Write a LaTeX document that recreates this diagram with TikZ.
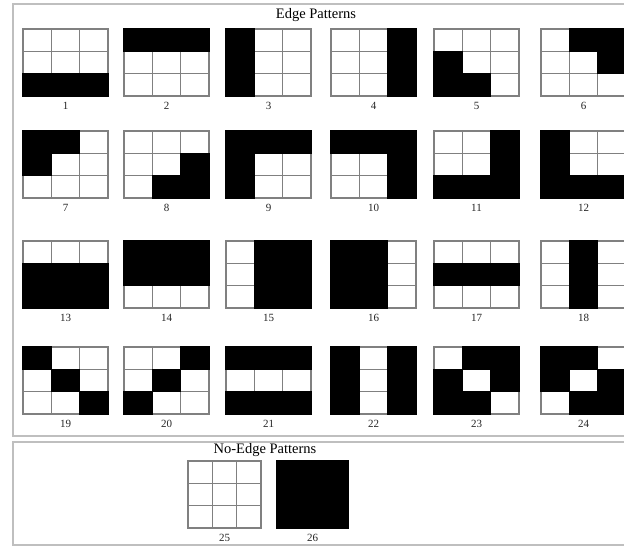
\documentclass[tikz,border=0pt]{standalone}
\usepackage{fontspec}
\setmainfont{Liberation Serif}
\tikzset{
  gridline/.style={draw=black!50, line width=1.1pt},
  frameline/.style={draw=black!25, line width=2pt},
  numlabel/.style={font=\fontsize{11}{12}\selectfont, inner sep=0pt, text=black!85},
  titlelabel/.style={font=\fontsize{14.5}{16}\selectfont, inner sep=0pt, text=black},
  cellfill/.style={fill=black},
}
\newcommand\mypat[7]{% #1 name, #2 x, #3 y, #4 w, #5 h, #6 bits, #7 label
  \pgfmathsetmacro\mycw{#4/3}\pgfmathsetmacro\mych{#5/3}
  \foreach \k in {1,2} {
    \draw[gridline] (#2+\k*\mycw, #3) -- (#2+\k*\mycw, #3+#5);
    \draw[gridline] (#2, #3+\k*\mych) -- (#2+#4, #3+\k*\mych);
  }
  \draw[gridline] (#2,#3) rectangle (#2+#4,#3+#5);
  \foreach \b [count=\i from 0] in {#6} {
    \pgfmathtruncatemacro\mycc{mod(\i,3)}
    \pgfmathtruncatemacro\myrr{int(\i/3)}
    \ifnum\b=1 \fill[cellfill] (#2+\mycc*\mycw-0.6, #3+\myrr*\mych-0.6) rectangle ++(\mycw+1.2,\mych+1.2); \fi
  }
  \node[numlabel] (#1) at (#2+#4/2, #3+#5+9.5) {#7};
}
\begin{document}
\begin{tikzpicture}[x=1pt,y=-1pt]
\useasboundingbox (0,0) rectangle (624,546);
\clip (0,0) rectangle (624,546);
\fill[white] (0,0) rectangle (624,546);
% frames
\draw[frameline] (13,4) rectangle (660,436);
\draw[frameline] (13,442) rectangle (660,545);
\node[titlelabel] (t1) at (316,15.5) {Edge Patterns};
\node[titlelabel] (t2) at (265,450.5) {No-Edge Patterns};
% row 1
\mypat{p1}{23}{29}{85}{67}{0,0,0,0,0,0,1,1,1}{1}
\mypat{p2}{124}{29}{85}{67}{1,1,1,0,0,0,0,0,0}{2}
\mypat{p3}{226}{29}{85}{67}{1,0,0,1,0,0,1,0,0}{3}
\mypat{p4}{331}{29}{85}{67}{0,0,1,0,0,1,0,0,1}{4}
\mypat{p5}{434}{29}{85}{67}{0,0,0,1,0,0,1,1,0}{5}
\mypat{p6}{541}{29}{85}{67}{0,1,1,0,0,1,0,0,0}{6}
% row 2
\mypat{p7}{23}{131}{85}{67}{1,1,0,1,0,0,0,0,0}{7}
\mypat{p8}{124}{131}{85}{67}{0,0,0,0,0,1,0,1,1}{8}
\mypat{p9}{226}{131}{85}{67}{1,1,1,1,0,0,1,0,0}{9}
\mypat{p10}{331}{131}{85}{67}{1,1,1,0,0,1,0,0,1}{10}
\mypat{p11}{434}{131}{85}{67}{0,0,1,0,0,1,1,1,1}{11}
\mypat{p12}{541}{131}{85}{67}{1,0,0,1,0,0,1,1,1}{12}
% row 3
\mypat{p13}{23}{241}{85}{67}{0,0,0,1,1,1,1,1,1}{13}
\mypat{p14}{124}{241}{85}{67}{1,1,1,1,1,1,0,0,0}{14}
\mypat{p15}{226}{241}{85}{67}{0,1,1,0,1,1,0,1,1}{15}
\mypat{p16}{331}{241}{85}{67}{1,1,0,1,1,0,1,1,0}{16}
\mypat{p17}{434}{241}{85}{67}{0,0,0,1,1,1,0,0,0}{17}
\mypat{p18}{541}{241}{85}{67}{0,1,0,0,1,0,0,1,0}{18}
% row 4
\mypat{p19}{23}{347}{85}{67}{1,0,0,0,1,0,0,0,1}{19}
\mypat{p20}{124}{347}{85}{67}{0,0,1,0,1,0,1,0,0}{20}
\mypat{p21}{226}{347}{85}{67}{1,1,1,0,0,0,1,1,1}{21}
\mypat{p22}{331}{347}{85}{67}{1,0,1,1,0,1,1,0,1}{22}
\mypat{p23}{434}{347}{85}{67}{0,1,1,1,0,1,1,1,0}{23}
\mypat{p24}{541}{347}{85}{67}{1,1,0,1,0,1,0,1,1}{24}
% no-edge
\mypat{p25}{188}{461}{73}{67}{0,0,0,0,0,0,0,0,0}{25}
\mypat{p26}{277}{461}{71}{67}{1,1,1,1,1,1,1,1,1}{26}
\end{tikzpicture}
\end{document}
